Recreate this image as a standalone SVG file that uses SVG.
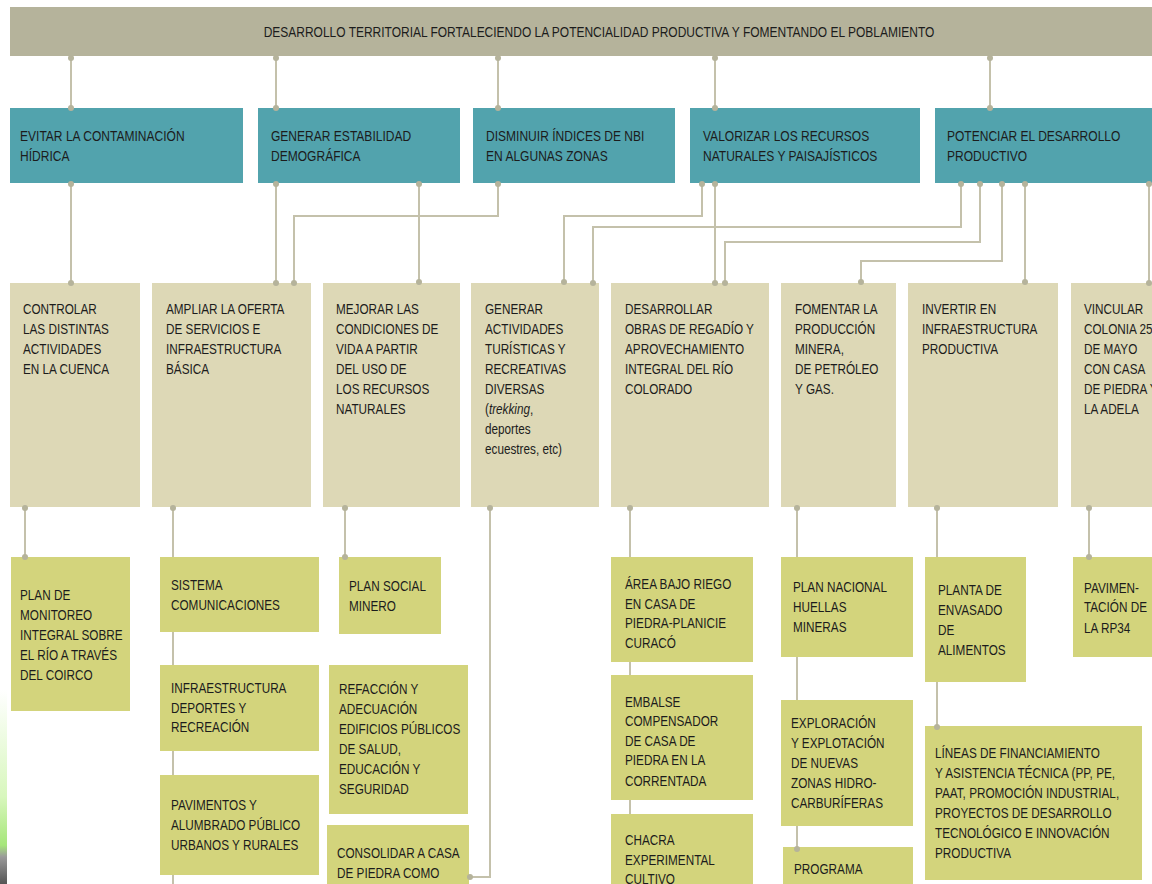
<svg xmlns="http://www.w3.org/2000/svg" width="1152" height="884" viewBox="0 0 1152 884">
<defs>
<linearGradient id="edge" x1="0" y1="0" x2="0" y2="1">
<stop offset="0" stop-color="#ffffff"/>
<stop offset="0.55" stop-color="#d8f7bd"/>
<stop offset="0.8" stop-color="#a6e67a"/>
<stop offset="0.86" stop-color="#9a9a9a"/>
<stop offset="1" stop-color="#555555"/>
</linearGradient>
</defs>
<style>
.bar{fill:#b5b39b}
.t{fill:#52a3ad}
.b{fill:#ddd8b6}
.g{fill:#d3d47c}
.c{stroke:#c4c1ab;stroke-width:2;fill:none}
.d{fill:#b5b39b}
text{font-family:"Liberation Sans",Arial,sans-serif;font-size:14px;fill:#1c1c1c;transform-box:fill-box;transform-origin:0 0;transform:scaleX(0.84)}
text.ttl{transform-origin:50% 0;transform:scaleX(0.857)}
text.tt{transform:scaleX(0.86)}
</style>
<rect width="1152" height="884" fill="#ffffff"/>
<rect x="0" y="690" width="7" height="194" fill="url(#edge)"/>

<g id="connectors">
<path class="c" d="M71 57V108M276 57V108M498 57V108M715 57V108M990 57V108"/>
<path class="c" d="M71 183V283M276 183V283M419 183V283M715 183V283M1025 183V283M1149 183V283"/>
<path class="c" d="M498 183V216H294V283M702 183V216H564V283M961 183V227H593V283M980 183V242H725V283M1002 183V261H861V283"/>
<path class="c" d="M25 507V557M173 507V884M345 507V557M490 507V877H470M630 507V884M797 507V849M937 507V727M1089 507V557"/>
</g>

<g id="n-title"><rect class="bar" x="10" y="7" width="1142" height="49"/><text class="ttl" x="599" y="37" text-anchor="middle">DESARROLLO TERRITORIAL FORTALECIENDO LA POTENCIALIDAD PRODUCTIVA Y FOMENTANDO EL POBLAMIENTO</text></g>

<g id="n-t1"><rect class="t" x="10" y="108" width="233" height="75"/><text class="tt" x="20" y="141">EVITAR LA CONTAMINACIÓN<tspan x="20" y="161">HÍDRICA</tspan></text></g>
<g id="n-t2"><rect class="t" x="258" y="108" width="202" height="75"/><text class="tt" x="271" y="141">GENERAR ESTABILIDAD<tspan x="271" y="161">DEMOGRÁFICA</tspan></text></g>
<g id="n-t3"><rect class="t" x="473" y="108" width="202" height="75"/><text class="tt" x="486" y="141">DISMINUIR ÍNDICES DE NBI<tspan x="486" y="161">EN ALGUNAS ZONAS</tspan></text></g>
<g id="n-t4"><rect class="t" x="690" y="108" width="230" height="75"/><text class="tt" x="703" y="141">VALORIZAR LOS RECURSOS<tspan x="703" y="161">NATURALES Y PAISAJÍSTICOS</tspan></text></g>
<g id="n-t5"><rect class="t" x="935" y="108" width="217" height="75"/><text class="tt" x="947" y="141">POTENCIAR EL DESARROLLO<tspan x="947" y="161">PRODUCTIVO</tspan></text></g>

<g id="n-b1"><rect class="b" x="10" y="283" width="130" height="224"/><text x="23" y="314">CONTROLAR<tspan x="23" y="334">LAS DISTINTAS</tspan><tspan x="23" y="354">ACTIVIDADES</tspan><tspan x="23" y="374">EN LA CUENCA</tspan></text></g>
<g id="n-b2"><rect class="b" x="152" y="283" width="159" height="224"/><text x="166" y="314">AMPLIAR LA OFERTA<tspan x="166" y="334">DE SERVICIOS E</tspan><tspan x="166" y="354">INFRAESTRUCTURA</tspan><tspan x="166" y="374">BÁSICA</tspan></text></g>
<g id="n-b3"><rect class="b" x="323" y="283" width="137" height="224"/><text x="336" y="314">MEJORAR LAS<tspan x="336" y="334">CONDICIONES DE</tspan><tspan x="336" y="354">VIDA A PARTIR</tspan><tspan x="336" y="374">DEL USO DE</tspan><tspan x="336" y="394">LOS RECURSOS</tspan><tspan x="336" y="414">NATURALES</tspan></text></g>
<g id="n-b4"><rect class="b" x="471" y="283" width="128" height="224"/><text x="485" y="314">GENERAR<tspan x="485" y="334">ACTIVIDADES</tspan><tspan x="485" y="354">TURÍSTICAS Y</tspan><tspan x="485" y="374">RECREATIVAS</tspan><tspan x="485" y="394">DIVERSAS</tspan><tspan x="485" y="414">(<tspan font-style="italic">trekking</tspan>,</tspan><tspan x="485" y="434">deportes</tspan><tspan x="485" y="454">ecuestres, etc)</tspan></text></g>
<g id="n-b5"><rect class="b" x="611" y="283" width="158" height="224"/><text x="625" y="314">DESARROLLAR<tspan x="625" y="334">OBRAS DE REGADÍO Y</tspan><tspan x="625" y="354">APROVECHAMIENTO</tspan><tspan x="625" y="374">INTEGRAL DEL RÍO</tspan><tspan x="625" y="394">COLORADO</tspan></text></g>
<g id="n-b6"><rect class="b" x="781" y="283" width="115" height="224"/><text x="795" y="314">FOMENTAR LA<tspan x="795" y="334">PRODUCCIÓN</tspan><tspan x="795" y="354">MINERA,</tspan><tspan x="795" y="374">DE PETRÓLEO</tspan><tspan x="795" y="394">Y GAS.</tspan></text></g>
<g id="n-b7"><rect class="b" x="908" y="283" width="150" height="224"/><text x="922" y="314">INVERTIR EN<tspan x="922" y="334">INFRAESTRUCTURA</tspan><tspan x="922" y="354">PRODUCTIVA</tspan></text></g>
<g id="n-b8"><rect class="b" x="1071" y="283" width="81" height="224"/><text x="1084" y="314">VINCULAR<tspan x="1084" y="334">COLONIA 25</tspan><tspan x="1084" y="354">DE MAYO</tspan><tspan x="1084" y="374">CON CASA</tspan><tspan x="1084" y="394">DE PIEDRA Y</tspan><tspan x="1084" y="414">LA ADELA</tspan></text></g>

<g id="n-g1"><rect class="g" x="11" y="557" width="119" height="154"/><text x="20" y="600">PLAN DE<tspan x="20" y="620">MONITOREO</tspan><tspan x="20" y="640">INTEGRAL SOBRE</tspan><tspan x="20" y="660">EL RÍO A TRAVÉS</tspan><tspan x="20" y="680">DEL COIRCO</tspan></text></g>
<g id="n-g2a"><rect class="g" x="160" y="557" width="159" height="75"/><text x="171" y="590">SISTEMA<tspan x="171" y="610">COMUNICACIONES</tspan></text></g>
<g id="n-g2b"><rect class="g" x="160" y="665" width="159" height="86"/><text x="171" y="693">INFRAESTRUCTURA<tspan x="171" y="713">DEPORTES Y</tspan><tspan x="171" y="732">RECREACIÓN</tspan></text></g>
<g id="n-g2c"><rect class="g" x="160" y="775" width="159" height="100"/><text x="171" y="810">PAVIMENTOS Y<tspan x="171" y="830">ALUMBRADO PÚBLICO</tspan><tspan x="171" y="850">URBANOS Y RURALES</tspan></text></g>
<g id="n-g3a"><rect class="g" x="339" y="557" width="102" height="77"/><text x="349" y="591">PLAN SOCIAL<tspan x="349" y="611">MINERO</tspan></text></g>
<g id="n-g3b"><rect class="g" x="329" y="665" width="139" height="149"/><text x="339" y="694">REFACCIÓN Y<tspan x="339" y="714">ADECUACIÓN</tspan><tspan x="339" y="734">EDIFICIOS PÚBLICOS</tspan><tspan x="339" y="754">DE SALUD,</tspan><tspan x="339" y="774">EDUCACIÓN Y</tspan><tspan x="339" y="794">SEGURIDAD</tspan></text></g>
<g id="n-g3c"><rect class="g" x="327" y="825" width="142" height="70"/><text x="337" y="858">CONSOLIDAR A CASA<tspan x="337" y="878">DE PIEDRA COMO</tspan></text></g>
<g id="n-g5a"><rect class="g" x="611" y="557" width="142" height="105"/><text x="625" y="589">ÁREA BAJO RIEGO<tspan x="625" y="609">EN CASA DE</tspan><tspan x="625" y="628">PIEDRA-PLANICIE</tspan><tspan x="625" y="648">CURACÓ</tspan></text></g>
<g id="n-g5b"><rect class="g" x="611" y="675" width="142" height="125"/><text x="625" y="707">EMBALSE<tspan x="625" y="726">COMPENSADOR</tspan><tspan x="625" y="746">DE CASA DE</tspan><tspan x="625" y="765">PIEDRA EN LA</tspan><tspan x="625" y="786">CORRENTADA</tspan></text></g>
<g id="n-g5c"><rect class="g" x="611" y="814" width="142" height="80"/><text x="625" y="845">CHACRA<tspan x="625" y="865">EXPERIMENTAL</tspan><tspan x="625" y="884">CULTIVO</tspan></text></g>
<g id="n-g6a"><rect class="g" x="781" y="557" width="132" height="100"/><text x="793" y="592">PLAN NACIONAL<tspan x="793" y="612">HUELLAS</tspan><tspan x="793" y="632">MINERAS</tspan></text></g>
<g id="n-g6b"><rect class="g" x="781" y="700" width="132" height="126"/><text x="791" y="728">EXPLORACIÓN<tspan x="791" y="748">Y EXPLOTACIÓN</tspan><tspan x="791" y="768">DE NUEVAS</tspan><tspan x="791" y="788">ZONAS HIDRO-</tspan><tspan x="791" y="808">CARBURÍFERAS</tspan></text></g>
<g id="n-g6c"><rect class="g" x="783" y="847" width="130" height="50"/><text x="794" y="874">PROGRAMA</text></g>
<g id="n-g7a"><rect class="g" x="925" y="557" width="101" height="125"/><text x="938" y="595">PLANTA DE<tspan x="938" y="615">ENVASADO</tspan><tspan x="938" y="635">DE</tspan><tspan x="938" y="655">ALIMENTOS</tspan></text></g>
<g id="n-g7b"><rect class="g" x="925" y="726" width="217" height="154"/><text x="935" y="758">LÍNEAS DE FINANCIAMIENTO<tspan x="935" y="778">Y ASISTENCIA TÉCNICA (PP, PE,</tspan><tspan x="935" y="798">PAAT, PROMOCIÓN INDUSTRIAL,</tspan><tspan x="935" y="818">PROYECTOS DE DESARROLLO</tspan><tspan x="935" y="838">TECNOLÓGICO E INNOVACIÓN</tspan><tspan x="935" y="858">PRODUCTIVA</tspan></text></g>
<g id="n-g8"><rect class="g" x="1073" y="557" width="79" height="100"/><text x="1084" y="593">PAVIMEN-<tspan x="1084" y="612">TACIÓN DE</tspan><tspan x="1084" y="633">LA RP34</tspan></text></g>

<g id="connector-ends" class="d">
<circle cx="71" cy="58" r="3"/><circle cx="276" cy="58" r="3"/><circle cx="498" cy="58" r="3"/><circle cx="715" cy="58" r="3"/><circle cx="990" cy="58" r="3"/>
<circle cx="71" cy="108" r="3"/><circle cx="276" cy="108" r="3"/><circle cx="498" cy="108" r="3"/><circle cx="715" cy="108" r="3"/><circle cx="990" cy="108" r="3"/>
<circle cx="71" cy="184" r="3"/><circle cx="276" cy="184" r="3"/><circle cx="419" cy="184" r="3"/><circle cx="498" cy="184" r="3"/><circle cx="702" cy="184" r="3"/><circle cx="715" cy="184" r="3"/><circle cx="961" cy="184" r="3"/><circle cx="980" cy="184" r="3"/><circle cx="1002" cy="184" r="3"/><circle cx="1025" cy="184" r="3"/><circle cx="1149" cy="184" r="3"/>
<circle cx="71" cy="283" r="3"/><circle cx="276" cy="283" r="3"/><circle cx="294" cy="283" r="3"/><circle cx="419" cy="282" r="3"/><circle cx="564" cy="282" r="3"/><circle cx="593" cy="283" r="3"/><circle cx="715" cy="283" r="3"/><circle cx="725" cy="283" r="3"/><circle cx="861" cy="282" r="3"/><circle cx="1025" cy="282" r="3"/><circle cx="1149" cy="283" r="3"/>
<circle cx="25" cy="508" r="3"/><circle cx="173" cy="508" r="3"/><circle cx="345" cy="508" r="3"/><circle cx="490" cy="508" r="3"/><circle cx="630" cy="508" r="3"/><circle cx="797" cy="508" r="3"/><circle cx="937" cy="508" r="3"/><circle cx="1089" cy="508" r="3"/>
<circle cx="25" cy="557" r="3"/><circle cx="345" cy="557" r="3"/><circle cx="1089" cy="557" r="3"/><circle cx="937" cy="727" r="3"/><circle cx="797" cy="849" r="3"/><circle cx="470" cy="877" r="3"/>
</g>
</svg>
